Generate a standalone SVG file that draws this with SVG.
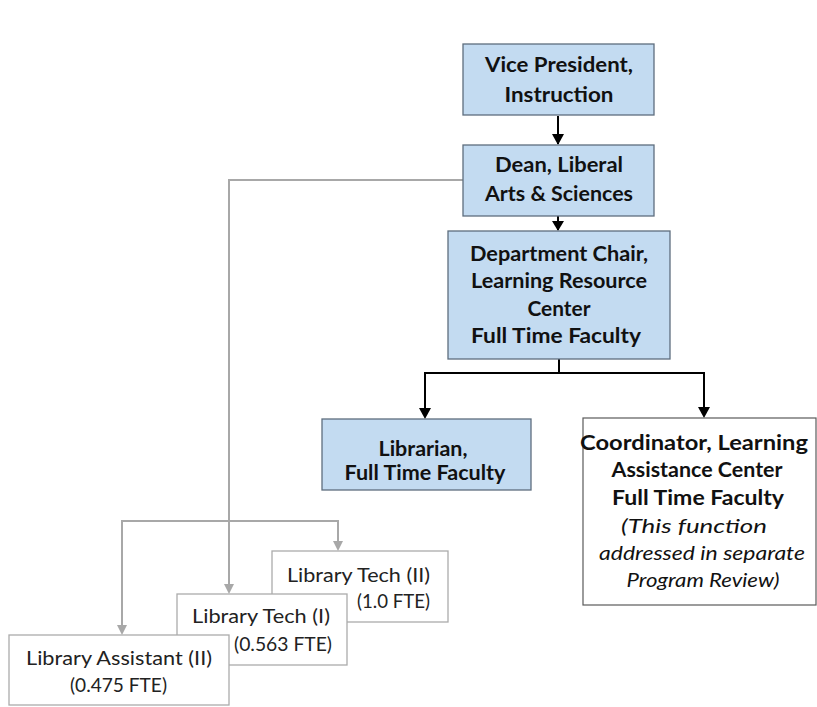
<svg xmlns="http://www.w3.org/2000/svg" width="817" height="707" viewBox="0 0 817 707">
<style>
.blue{fill:#C3DBF1;stroke:#5E6E7E;stroke-width:1.3}
.white{fill:#FFFFFF;stroke:#5A5A5A;stroke-width:1.2}
.lib{fill:#FFFFFF;stroke:#ABABAB;stroke-width:1.3}
.b{font-family:Lato,"Liberation Sans",sans-serif;font-weight:bold;font-size:20px;fill:#111;text-anchor:middle}
.i{font-family:Lato,"Liberation Sans",sans-serif;font-style:italic;font-size:20px;fill:#111;text-anchor:middle}
.r{font-family:Lato,"Liberation Sans",sans-serif;font-size:18.5px;fill:#222}
.blk{fill:none;stroke:#000;stroke-width:2}
.gry{fill:none;stroke:#A8A8A8;stroke-width:2}
</style>
<g id="connectors">
<path class="blk" d="M558 116 V144"/>
<path d="M552 134 L564 134 L558 145 Z" fill="#000"/>
<path class="blk" d="M558 216 V230"/>
<path d="M552 221 L564 221 L558 231 Z" fill="#000"/>
<path class="blk" d="M559 359 V373 H425 V410"/>
<path d="M419 408 L431 408 L425 419 Z" fill="#000"/>
<path class="blk" d="M559 373 H704 V410"/>
<path d="M698 407 L710 407 L704 418 Z" fill="#000"/>
<path class="gry" d="M463 180 H229 V586"/>
<path d="M224 584 L234 584 L229 594 Z" fill="#A8A8A8"/>
<path class="gry" d="M122 627 V521 H338 V543"/>
<path d="M333 541 L343 541 L338 551 Z" fill="#A8A8A8"/>
<path d="M117 625 L127 625 L122 635 Z" fill="#A8A8A8"/>
</g>
<g id="vp">
<rect class="blue" x="463" y="44" width="191" height="71"/>
<text class="b" x="559" y="72" textLength="148" lengthAdjust="spacingAndGlyphs">Vice President,</text>
<text class="b" x="559" y="102" textLength="109" lengthAdjust="spacingAndGlyphs">Instruction</text>
</g>
<g id="dean">
<rect class="blue" x="463" y="145" width="191" height="71"/>
<text class="b" x="559" y="172" textLength="128" lengthAdjust="spacingAndGlyphs">Dean, Liberal</text>
<text class="b" x="559" y="201" textLength="148" lengthAdjust="spacingAndGlyphs">Arts &amp; Sciences</text>
</g>
<g id="chair">
<rect class="blue" x="448" y="231" width="222" height="128"/>
<text class="b" x="559" y="261" textLength="178" lengthAdjust="spacingAndGlyphs">Department Chair,</text>
<text class="b" x="559" y="288" textLength="176" lengthAdjust="spacingAndGlyphs">Learning Resource</text>
<text class="b" x="559" y="316" textLength="63" lengthAdjust="spacingAndGlyphs">Center</text>
<text class="b" x="556" y="343" textLength="170" lengthAdjust="spacingAndGlyphs">Full Time Faculty</text>
</g>
<g id="librarian">
<rect class="blue" x="322" y="419" width="209" height="71"/>
<text class="b" x="423" y="456" textLength="89" lengthAdjust="spacingAndGlyphs">Librarian,</text>
<text class="b" x="425" y="480" textLength="161" lengthAdjust="spacingAndGlyphs">Full Time Faculty</text>
</g>
<g id="coordinator">
<rect class="white" x="583" y="418" width="233" height="187"/>
<text class="b" x="694" y="450" textLength="228" lengthAdjust="spacingAndGlyphs">Coordinator, Learning</text>
<text class="b" x="697" y="477" textLength="171" lengthAdjust="spacingAndGlyphs">Assistance Center</text>
<text class="b" x="698" y="505" textLength="172" lengthAdjust="spacingAndGlyphs">Full Time Faculty</text>
<text class="i" x="694" y="533" textLength="146" lengthAdjust="spacingAndGlyphs">(This function</text>
<text class="i" x="702" y="560" textLength="206" lengthAdjust="spacingAndGlyphs">addressed in separate</text>
<text class="i" x="703" y="587" textLength="153" lengthAdjust="spacingAndGlyphs">Program Review)</text>
</g>
<g id="libtech2">
<rect class="lib" x="272" y="551" width="176" height="71"/>
<text class="r" x="287" y="582" textLength="143" lengthAdjust="spacingAndGlyphs">Library Tech (II)</text>
<text class="r" x="357" y="608" textLength="73" lengthAdjust="spacingAndGlyphs">(1.0 FTE)</text>
</g>
<g id="libtech1">
<rect class="lib" x="177" y="594" width="170" height="71"/>
<text class="r" x="192" y="623" textLength="138" lengthAdjust="spacingAndGlyphs">Library Tech (I)</text>
<text class="r" x="234" y="651" textLength="98" lengthAdjust="spacingAndGlyphs">(0.563 FTE)</text>
</g>
<g id="libassistant">
<rect class="lib" x="9" y="635" width="220" height="70"/>
<text class="r" x="26" y="665" textLength="186" lengthAdjust="spacingAndGlyphs">Library Assistant (II)</text>
<text class="r" x="70" y="692" textLength="97" lengthAdjust="spacingAndGlyphs">(0.475 FTE)</text>
</g>
</svg>
